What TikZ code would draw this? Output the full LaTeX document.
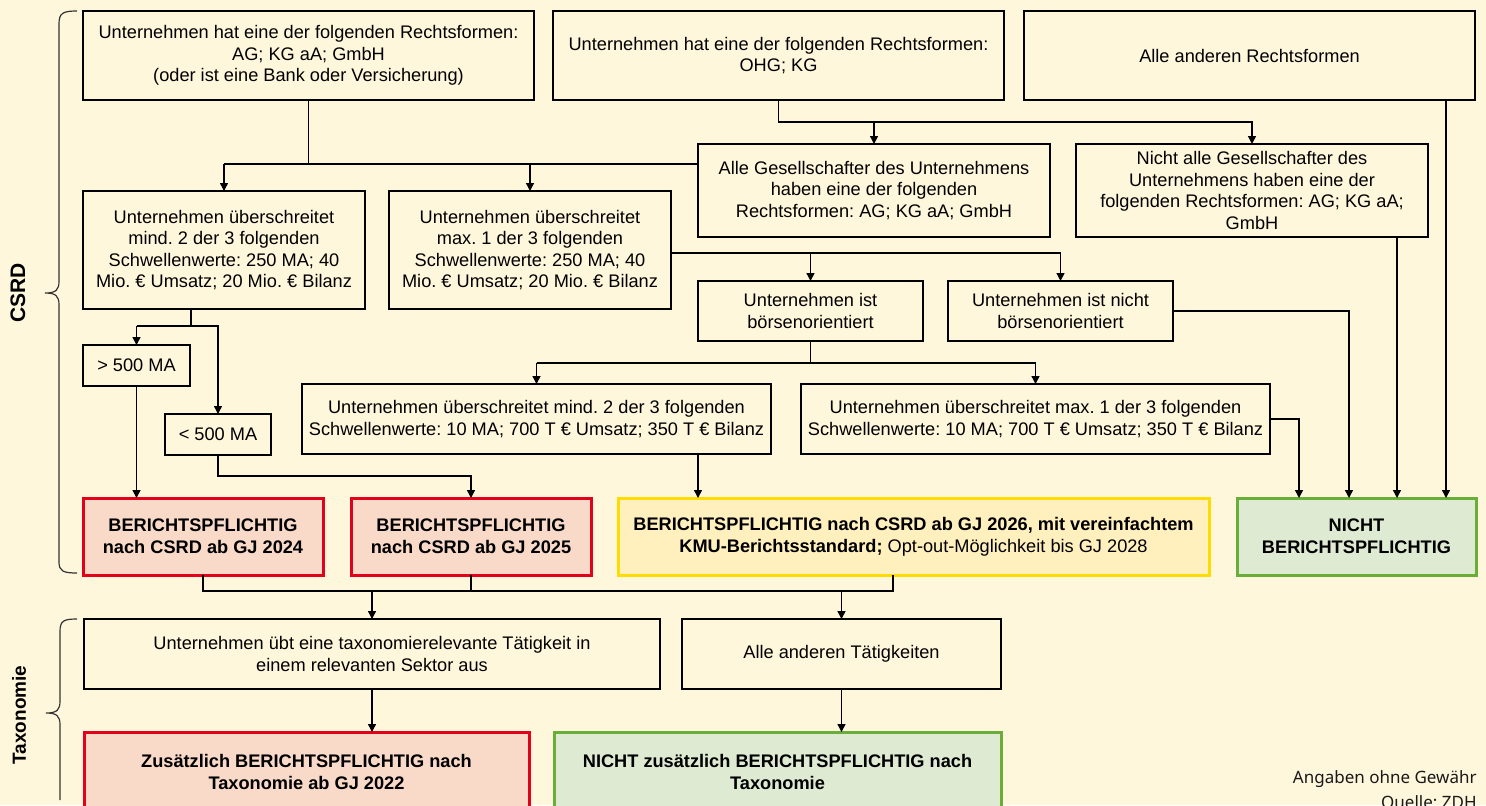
\documentclass[tikz,border=0pt]{standalone}
\usepackage{fontspec}
\setmainfont{Liberation Sans}
\newfontfamily\notefont{Noto Sans}
\usetikzlibrary{arrows.meta}
\frenchspacing
\definecolor{bg}{HTML}{FFF7DB}
\definecolor{redfill}{HTML}{F9D9C8}
\definecolor{redline}{HTML}{E3001B}
\definecolor{yelfill}{HTML}{FFF0BE}
\definecolor{yelline}{HTML}{FFDC00}
\definecolor{grnfill}{HTML}{DEEAD1}
\definecolor{grnline}{HTML}{6AAE3A}
\newcommand\boxnode[7]{\node[#1, minimum width={(#5-#3)*0.5pt}, minimum height={(#6-#4)*0.5pt}] (#2) at ({(#3+#5)/2},{(#4+#6)/2}) {#7};}
\begin{document}
\begin{tikzpicture}[x=0.5pt,y=-0.5pt,
  base/.style={inner sep=0pt, outer sep=0pt, align=center, font=\fontsize{9.1pt}{10.8pt}\selectfont},
  plain/.style={base, draw=black, line width=1pt, fill=bg},
  redbox/.style={base, draw=redline, line width=1.5pt, fill=redfill, font=\fontsize{9.1pt}{11pt}\selectfont\bfseries},
  yelbox/.style={base, draw=yelline, line width=1.5pt, fill=yelfill, font=\fontsize{9.1pt}{11pt}\selectfont},
  grnbox/.style={base, draw=grnline, line width=1.5pt, fill=grnfill, font=\fontsize{9.1pt}{11pt}\selectfont\bfseries},
  conn/.style={line width=0.7pt, draw=black},
  arr/.style={conn, -{Triangle[length=4pt,width=4pt]}},
  side/.style={rotate=90, font=\fontsize{9.5pt}{11pt}\selectfont\bfseries},
  brace/.style={line width=0.6pt, draw=black!80}
]
\useasboundingbox (0,0) rectangle (1486,805);
\fill[bg] (0,0) rectangle (1486,805);
\clip (0,0) rectangle (1486,805);

% braces and side labels
\draw[brace] (77,11) .. controls (63,11) and (59,13) .. (59,24) -- (59,281) .. controls (59,290) and (56,293) .. (45,293) .. controls (56,293) and (59,296) .. (59,305) -- (59,562) .. controls (59,571) and (63,573) .. (77,573);
\node[side, font=\fontsize{10.5pt}{12pt}\selectfont\bfseries] (csrd) at (18,293) {CSRD};
\draw[brace] (77,619) .. controls (63,619) and (60,621) .. (60,632) -- (60,701) .. controls (60,710) and (57,713) .. (46,713) .. controls (57,713) and (60,716) .. (60,725) -- (60,800);
\node[side] (tax) at (19,715) {Taxonomie};

% boxes
\boxnode{plain}{A}{83}{11}{534}{100}{Unternehmen hat eine der folgenden Rechtsformen:\\AG; KG aA; GmbH\\(oder ist eine Bank oder Versicherung)}
\boxnode{plain}{B}{553}{11}{1004}{100}{Unternehmen hat eine der folgenden Rechtsformen:\\OHG; KG}
\boxnode{plain}{C}{1024}{11}{1475}{100}{Alle anderen Rechtsformen}
\boxnode{plain}{D}{83}{191}{365}{309}{Unternehmen überschreitet\\mind. 2 der 3 folgenden\\Schwellenwerte: 250 MA; 40\\Mio. € Umsatz; 20 Mio. € Bilanz}
\boxnode{plain}{E}{389}{191}{671}{309}{Unternehmen überschreitet\\max. 1 der 3 folgenden\\Schwellenwerte: 250 MA; 40\\Mio. € Umsatz; 20 Mio. € Bilanz}
\boxnode{plain}{F}{698}{144}{1050}{237}{Alle Gesellschafter des Unternehmens\\haben eine der folgenden\\Rechtsformen: AG; KG aA; GmbH}
\boxnode{plain}{G}{1076}{144}{1428}{237}{Nicht alle Gesellschafter des\\Unternehmens haben eine der\\folgenden Rechtsformen: AG; KG aA;\\GmbH}
\boxnode{plain}{H}{698}{281}{923}{341}{Unternehmen ist\\börsenorientiert}
\boxnode{plain}{I}{948}{281}{1173}{341}{Unternehmen ist nicht\\börsenorientiert}
\boxnode{plain}{N}{83}{345}{190}{386}{> 500 MA}
\boxnode{plain}{O}{165}{414}{271}{455}{< 500 MA}
\boxnode{plain}{J}{302}{384}{771}{454}{Unternehmen überschreitet mind. 2 der 3 folgenden\\Schwellenwerte: 10 MA; 700 T € Umsatz; 350 T € Bilanz}
\boxnode{plain}{K}{801}{384}{1270}{454}{Unternehmen überschreitet max. 1 der 3 folgenden\\Schwellenwerte: 10 MA; 700 T € Umsatz; 350 T € Bilanz}
\boxnode{redbox}{P}{83}{498}{323}{575}{BERICHTSPFLICHTIG\\nach CSRD ab GJ 2024}
\boxnode{redbox}{Q}{351}{498}{591}{575}{BERICHTSPFLICHTIG\\nach CSRD ab GJ 2025}
\boxnode{yelbox}{L}{618}{498}{1209}{575}{\textbf{BERICHTSPFLICHTIG nach CSRD ab GJ 2026, mit vereinfachtem}\\\textbf{KMU-Berichtsstandard;} Opt-out-Möglichkeit bis GJ 2028}
\boxnode{grnbox}{M}{1237}{498}{1476}{575}{NICHT\\BERICHTSPFLICHTIG}
\boxnode{plain}{R}{84}{619}{660}{689}{Unternehmen übt eine taxonomierelevante Tätigkeit in\\einem relevanten Sektor aus}
\boxnode{plain}{S}{682}{619}{1001}{689}{Alle anderen Tätigkeiten}
\boxnode{redbox}{T}{84}{732}{529}{812}{Zusätzlich BERICHTSPFLICHTIG nach\\Taxonomie ab GJ 2022}
\boxnode{grnbox}{U}{554}{732}{1001}{812}{NICHT zusätzlich BERICHTSPFLICHTIG nach\\Taxonomie}

% helper coordinates
\coordinate (r1) at (0,164);
\coordinate (r2) at (0,122);
\coordinate (r3) at (0,253);
\coordinate (r4) at (0,363);
\coordinate (r5) at (0,326);
\coordinate (r6) at (0,476);
\coordinate (r7) at (0,591);
\coordinate (c1) at (1299,0);
\coordinate (c2) at (1349,0);
\coordinate (c3) at (1397,0);
\coordinate (c4) at (1446,0);
\coordinate (c5) at (698,0);
\coordinate (c6) at (191,0);
\coordinate (c7) at (893,0);

% connectors
\draw[conn] (A.south) -- (A.south|-r1);
\draw[conn] (F.west|-r1) -- (D.north|-r1);
\draw[arr] (D.north|-r1) -- (D.north);
\draw[arr] (E.north|-r1) -- (E.north);

\draw[arr] (B.south) -- (B.south|-r2) -| (G.north);
\draw[arr] (F.north|-r2) -- (F.north);

\draw[arr] (E.east|-r3) -| (I.north);
\draw[arr] (H.north|-r3) -- (H.north);

\draw[conn] (H.south) -- (H.south|-r4);
\draw[arr] (J.north|-r4) -| (K.north);
\draw[arr] (J.north|-r4) -- (J.north);

\draw[arr] (C.south-|c4) -- (M.north-|c4);
\draw[arr] (G.south-|c3) -- (M.north-|c3);
\draw[arr] (I.east) -| (M.north-|c2);
\draw[arr] (K.east) -| (M.north-|c1);

\draw[arr] (J.south-|c5) -- (L.north-|c5);

\draw[conn] (D.south-|c6) -- (c6|-r5);
\draw[arr] (N.north|-r5) -| (O.north);
\draw[arr] (N.north|-r5) -- (N.north);
\draw[arr] (N.south) -- (P.north-|N.south);
\draw[arr] (O.south) -- (O.south|-r6) -| (Q.north);

\draw[conn] (P.south) -- (P.south|-r7) -- (c7|-r7) -- (L.south-|c7);
\draw[conn] (Q.south) -- (Q.south|-r7);
\draw[arr] (R.north|-r7) -- (R.north);
\draw[arr] (S.north|-r7) -- (S.north);

\draw[arr] (R.south) -- (T.north-|R.south);
\draw[arr] (S.south) -- (U.north-|S.south);

% notes
\node[anchor=east, inner sep=0pt, font=\notefont\fontsize{8.5pt}{10pt}\selectfont, text=black!90] (note1) at (1477,779) {Angaben ohne Gewähr};
\node[anchor=east, inner sep=0pt, font=\notefont\fontsize{8.5pt}{10pt}\selectfont, text=black!90] (note2) at (1477,803) {Quelle: ZDH};
\end{tikzpicture}
\end{document}
